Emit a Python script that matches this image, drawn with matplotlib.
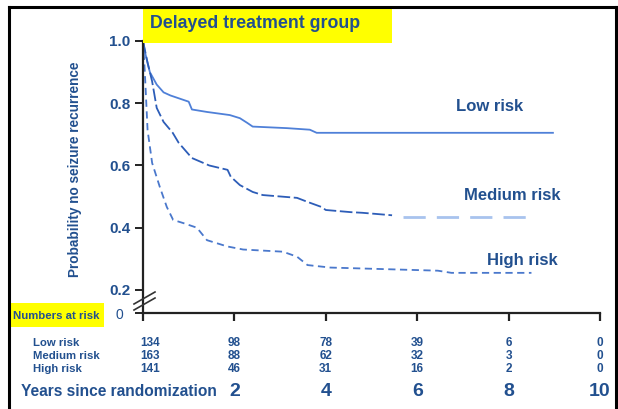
import numpy as np
import matplotlib
matplotlib.use('Agg')
import matplotlib.pyplot as plt
from matplotlib.patches import Rectangle
from matplotlib.lines import Line2D
from matplotlib.transforms import blended_transform_factory

plt.rcParams['font.family'] = ['Liberation Sans', 'DejaVu Sans']

# Kaplan-Meier style curves (years, probability)
low_t = [0, 0.05, 0.15, 0.3, 0.45, 0.6, 0.8, 1.0, 1.07, 1.4, 1.9, 2.12, 2.28, 2.4, 3.15, 3.65, 3.8, 8.97]
low_p = [1.0, 0.96, 0.90, 0.86, 0.835, 0.825, 0.815, 0.805, 0.78, 0.772, 0.762, 0.752, 0.737, 0.725, 0.72, 0.715, 0.705, 0.705]

med_t = [0, 0.1, 0.2, 0.3, 0.45, 0.65, 0.78, 1.07, 1.45, 1.85, 1.92, 2.12, 2.4, 2.62, 3.37, 3.6, 3.9, 4.0, 4.55, 4.8, 5.45]
med_p = [1.0, 0.93, 0.87, 0.785, 0.74, 0.705, 0.673, 0.624, 0.60, 0.586, 0.564, 0.537, 0.515, 0.505, 0.496, 0.483, 0.467, 0.457, 0.45, 0.448, 0.44]
med_tail_t = [5.7, 8.5]
med_tail_p = [0.435, 0.435]

high_t = [0, 0.04, 0.1, 0.2, 0.37, 0.52, 0.66, 0.88, 1.18, 1.4, 1.84, 2.19, 3.06, 3.37, 3.6, 4.1, 6.45, 6.75, 8.5]
high_p = [1.0, 0.90, 0.714, 0.608, 0.53, 0.467, 0.425, 0.415, 0.40, 0.36, 0.34, 0.33, 0.323, 0.307, 0.28, 0.272, 0.262, 0.255, 0.255]

# numbers at risk table
risk_years = [0, 2, 4, 6, 8, 10]
risk_groups = ['Low risk', 'Medium risk', 'High risk']
risk_counts = [[134, 98, 78, 39, 6, 0],
               [163, 88, 62, 32, 3, 0],
               [141, 46, 31, 16, 2, 0]]
year_labels = ['2', '4', '6', '8', '10']

blue_txt = '#22508f'
W, H = 618, 409


def fx(px):
    return px / W


def fy(py):
    return 1 - py / H


fig = plt.figure(figsize=(6.18, 4.09), dpi=100)

# outer frame
for xs, ys in [((9, 9), (409, 7)), ((9, 616), (7, 7)), ((616, 616), (7, 409))]:
    fig.add_artist(Line2D([fx(xs[0]), fx(xs[1])], [fy(ys[0]), fy(ys[1])],
                          color='black', lw=2.2, transform=fig.transFigure))

ybot = 0.126
ax = fig.add_axes([fx(143), fy(313), fx(600) - fx(143), fy(41) - fy(313)])
ax.set_xlim(0, 10)
ax.set_ylim(ybot, 1.0)
ax.patch.set_alpha(0)
for s in ['top', 'right']:
    ax.spines[s].set_visible(False)
for s in ['left', 'bottom']:
    ax.spines[s].set_linewidth(1.6)
    ax.spines[s].set_color('#222222')
    ax.spines[s].set_clip_on(False)

ax.plot(low_t, low_p, color='#4f80d8', lw=1.3, clip_on=False)
ax.plot(med_t, med_p, color='#2d5db8', lw=1.3, dashes=(7, 2), clip_on=False)
ax.plot(med_tail_t, med_tail_p, color='#a8c3ee', lw=2.0, dashes=(8, 4))
ax.plot(high_t, high_p, color='#4a78cc', lw=1.3, dashes=(4, 2.5), clip_on=False)

ax.text(7.59, 0.791, 'Low risk', color=blue_txt, fontsize=12, fontweight='bold', ha='center', va='center')
ax.text(8.07, 0.502, 'Medium risk', color=blue_txt, fontsize=12, fontweight='bold', ha='center', va='center')
ax.text(8.31, 0.296, 'High risk', color=blue_txt, fontsize=12, fontweight='bold', ha='center', va='center')

ax.set_yticks([ybot, 0.2, 0.4, 0.6, 0.8, 1.0])
ax.set_yticklabels(['', '0.2', '0.4', '0.6', '0.8', '1.0'])
ax.tick_params(axis='y', direction='out', length=6, width=1.4, color='#222222',
               labelcolor=blue_txt, labelsize=11, pad=3)
for lab in ax.get_yticklabels():
    lab.set_fontweight('bold')
ax.set_xticks(risk_years)
ax.set_xticklabels([])
ax.tick_params(axis='x', direction='out', length=6, width=1.6, color='#222222')

# axis break marks
for dy in (0, 6):
    fig.add_artist(Line2D([fx(134), fx(155)], [fy(304 + dy), fy(292 + dy)],
                          color='#333333', lw=1.2, transform=fig.transFigure))

# title box
fig.add_artist(Rectangle((fx(143), fy(43)), fx(392) - fx(143), fy(9) - fy(43),
                         facecolor='#ffff00', edgecolor='none', transform=fig.transFigure))
fig.text(fx(150), fy(23), 'Delayed treatment group', color=blue_txt, fontsize=12.8,
         fontweight='bold', va='center', ha='left')

# y label
fig.text(fx(75), fy(169), 'Probability no seizure recurrence', color=blue_txt, fontsize=9.8,
         fontweight='bold', rotation=90, ha='center', va='center')

# numbers at risk label
fig.add_artist(Rectangle((fx(10), fy(327)), fx(104) - fx(10), fy(303) - fy(327),
                         facecolor='#ffff00', edgecolor='none', transform=fig.transFigure))
fig.text(fx(13), fy(316), 'Numbers at risk', color=blue_txt, fontsize=8.2,
         fontweight='bold', va='center', ha='left')
fig.text(fx(119), fy(315), '0', color=blue_txt, fontsize=10, va='center', ha='center')

tr = blended_transform_factory(ax.transData, fig.transFigure)
row_y = [343, 356, 369]
for gi, grp in enumerate(risk_groups):
    fig.text(fx(33), fy(row_y[gi]), grp, color=blue_txt, fontsize=8.2,
             fontweight='bold', va='center', ha='left')
    for yr, c in zip(risk_years, risk_counts[gi]):
        ha = 'left' if yr == 0 else 'center'
        xx = yr - 0.05 if yr == 0 else yr
        ax.text(xx, fy(row_y[gi]), str(c), transform=tr, color=blue_txt,
                fontsize=8.5, fontweight='bold', ha=ha, va='center')

fig.text(fx(21), fy(391), 'Years since randomization', color=blue_txt, fontsize=11.2,
         fontweight='bold', va='center', ha='left')
for yr, lab in zip(risk_years[1:], year_labels):
    ax.text(yr, fy(391), lab, transform=tr, color=blue_txt, fontsize=14,
            fontweight='bold', ha='center', va='center')

fig.savefig('out.png', dpi=100)
